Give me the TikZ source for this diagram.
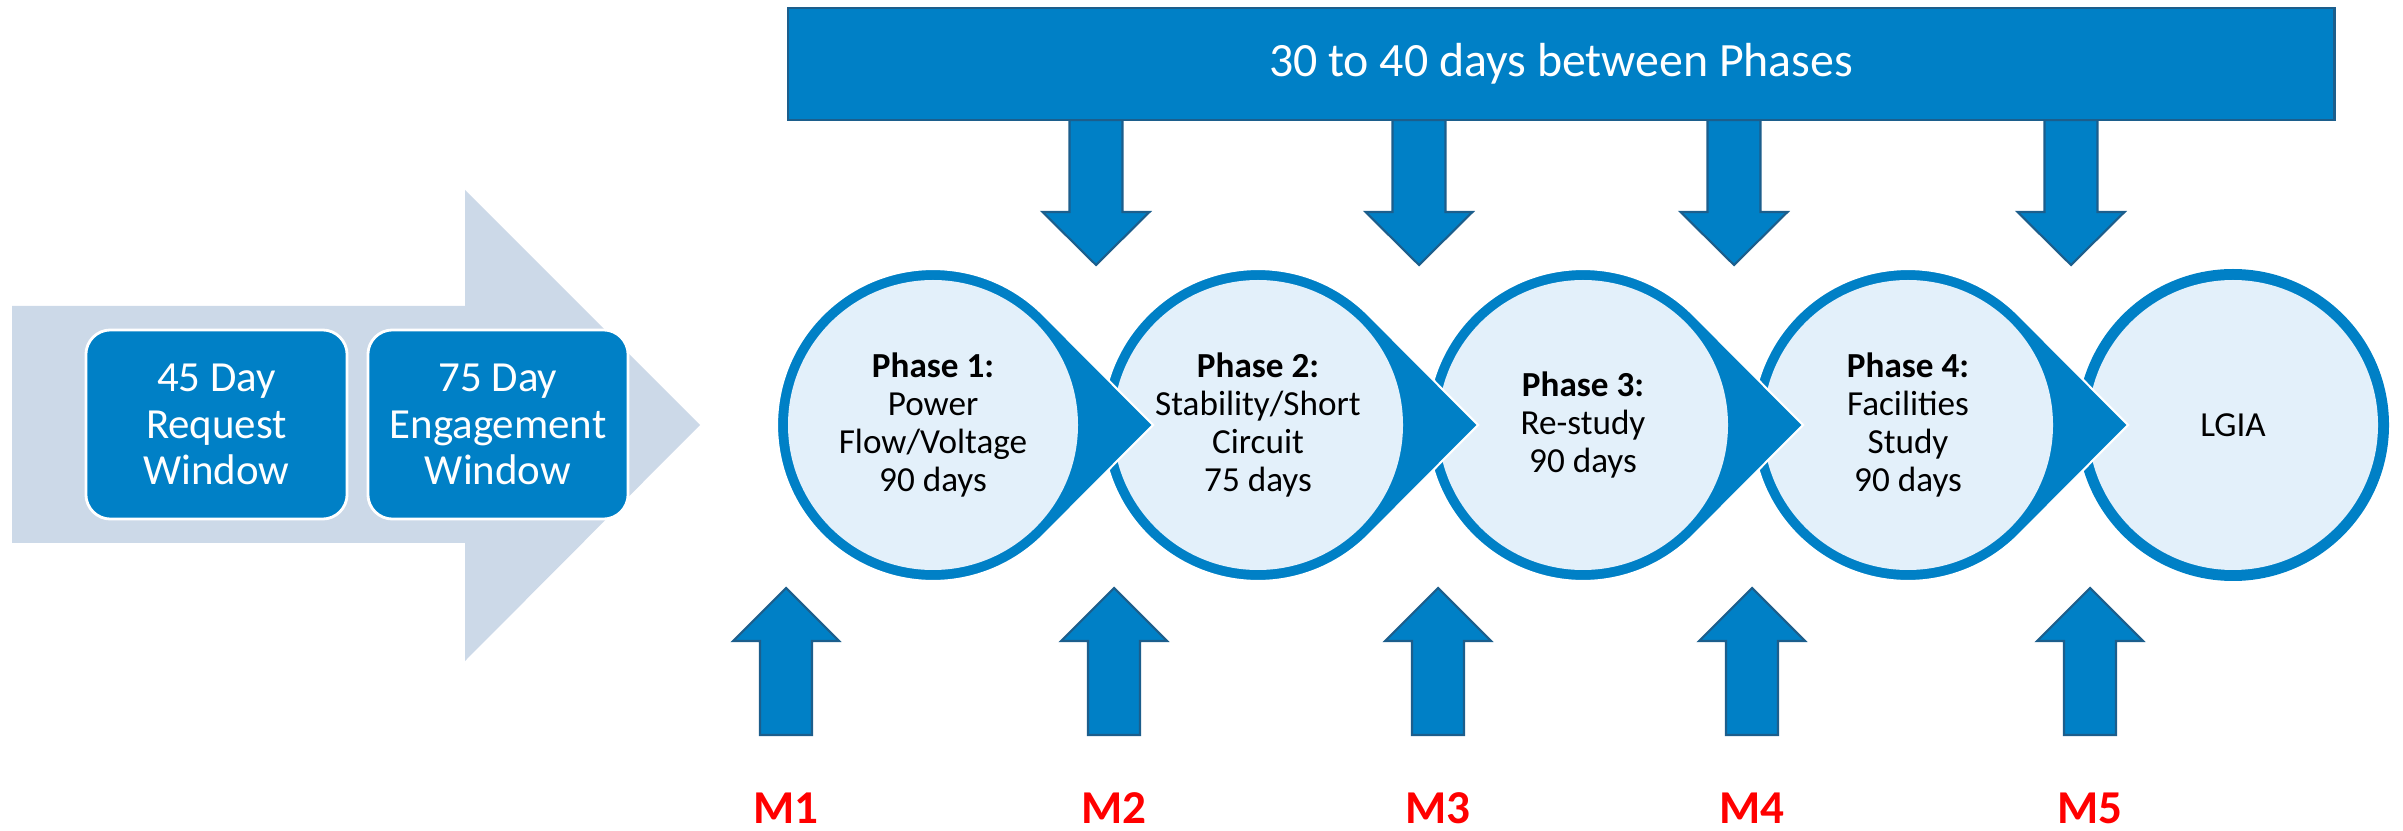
\documentclass[tikz,border=0pt]{standalone}
\usepackage{fontspec}
\setmainfont{Carlito}
\definecolor{mainblue}{RGB}{0,128,198}
\definecolor{edgeblue}{RGB}{28,94,140}
\definecolor{pale}{RGB}{204,217,232}
\definecolor{innerfill}{RGB}{227,240,250}
\begin{document}
\begin{tikzpicture}[x=0.01cm,y=0.01cm,
  blockarrow/.style={fill=mainblue,draw=edgeblue,line width=0.6pt,line join=miter},
  uparr/.pic={\path[blockarrow] (-26,0) -- (-26,94) -- (-53,94) -- (0,147) -- (53,94) -- (26,94) -- (26,0) -- cycle;},
  downarr/.pic={\path[blockarrow] (-26.5,0) -- (-26.5,-92) -- (-53.5,-92) -- (0,-145) -- (53.5,-92) -- (26.5,-92) -- (26.5,0) -- cycle;},
  winbox/.style={fill=mainblue,draw=white,line width=0.8pt,rounded corners=7pt,text=white,align=center,
    font=\fontsize{12.2}{13.3}\selectfont,minimum height=1.89cm,inner sep=0pt},
  phasetext/.style={align=center,font=\fontsize{10}{10.8}\selectfont,text=black},
  mlabel/.style={text=red,font=\fontsize{13.4}{15}\selectfont\bfseries,anchor=base},
  phaseshape/.style={fill=mainblue,draw=white,line width=0.6pt,line join=miter},
]
\useasboundingbox (0,0) rectangle (2403,830);
% big light arrow
\fill[pale] (12,287) -- (465,287) -- (465,169) -- (700,405) -- (465,640) -- (465,524) -- (12,524) -- cycle;
% windows
\node[winbox,minimum width=2.61cm] (req) at (216.5,405.5) {45 Day\\Request\\Window};
\node[winbox,minimum width=2.60cm] (eng) at (498,405.5) {75 Day\\Engagement\\Window};
% down arrows
\foreach \dx in {1096,1419,1734,2071} { \pic at (\dx,710) {downarr}; }
% banner
\node[fill=mainblue,draw=edgeblue,line width=0.6pt,minimum width=15.46cm,minimum height=1.12cm,inner sep=0pt,
  text=white,font=\fontsize{13.6}{16}\selectfont] (banner) at (1561,766) {30 to 40 days between Phases};
% LGIA circle
\path[fill=mainblue] (2233,405) circle[radius=156];
\fill[innerfill] (2233,405) circle[radius=145];
% phase shapes, drawn right to left
\foreach \cx in {1908,1583,1258,933} {
  \path[phaseshape] ({\cx+220},405) -- ({\cx+110.6},515) arc[start angle=44.85,end angle=315.15,radius=156] -- cycle;
  \fill[innerfill] (\cx,405) circle[radius=145];
}
% texts
\node[phasetext] (p1) at (933,405) {\textbf{Phase 1:}\\Power\\Flow/Voltage\\90 days};
\node[phasetext] (p2) at (1258,405) {\textbf{Phase 2:}\\Stability/Short\\Circuit\\75 days};
\node[phasetext] (p3) at (1583,405) {\textbf{Phase 3:}\\Re-study\\90 days};
\node[phasetext] (p4) at (1908,405) {\textbf{Phase 4:}\\Facilities\\Study\\90 days};
\node[phasetext] (p5) at (2233,405) {LGIA};
% up arrows and milestones
\foreach \n/\mx in {1/786,2/1114,3/1438,4/1752,5/2090} {
  \pic at (\mx,95) {uparr};
  \node[mlabel] (m\n) at (\mx,7) {M\n};
}
\end{tikzpicture}
\end{document}
